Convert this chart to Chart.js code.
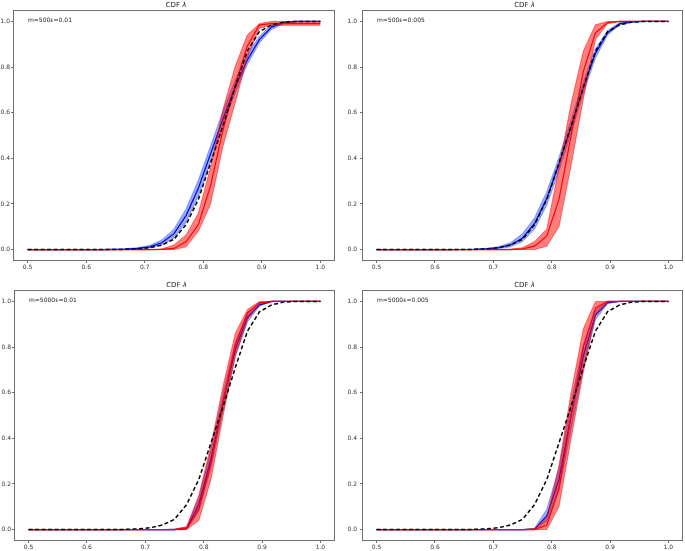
<!DOCTYPE html>
<html>
<head>
<meta charset="utf-8">
<script src="https://cdn.jsdelivr.net/npm/chart.js@4.4.1/dist/chart.umd.min.js"></script>
<style>
  html, body { margin: 0; padding: 0; background: #fff; }
  #fig { position: relative; width: 685px; height: 551px; }
  .panel { position: absolute; }
</style>
</head>
<body>
<div id="fig">
  <div class="panel" style="left:0;top:0"><canvas id="c-tl" width="342" height="275"></canvas></div>
  <div class="panel" style="left:342px;top:0"><canvas id="c-tr" width="343" height="275"></canvas></div>
  <div class="panel" style="left:0;top:275px"><canvas id="c-bl" width="342" height="276"></canvas></div>
  <div class="panel" style="left:342px;top:275px"><canvas id="c-br" width="343" height="276"></canvas></div>
</div>
<script>
// grade lambda (25 pontos entre 0.5 e 1.0)
const lambdas = [0.5, 0.5208, 0.5417, 0.5625, 0.5833, 0.6042, 0.625, 0.6458, 0.6667, 0.6875,
  0.7083, 0.7292, 0.75, 0.7708, 0.7917, 0.8125, 0.8333, 0.8542, 0.875, 0.8958,
  0.9167, 0.9375, 0.9583, 0.9792, 1.0];
const xTicks = [0.5, 0.6, 0.7, 0.8, 0.9, 1.0];
const yTicks = [0.0, 0.2, 0.4, 0.6, 0.8, 1.0];

// CDF verdadeira (tracejada preta), igual nos quatro paineis
const trueCdf = [0,0,0,0,0,0,0,0.0005,0.001,0.003, 0.008,0.02,0.045,0.11,0.22,0.38,0.54,0.71,0.87,0.955, 0.985,0.997,1,1,1];

// m=500, eps=0.01
const tlBlueMean = [0,0,0,0,0,0,0,0.001,0.002,0.005, 0.012,0.03,0.07,0.15,0.27,0.42,0.57,0.71,0.83,0.92, 0.975,0.995,1,1,1];
const tlBlueLow  = [0,0,0,0,0,0,0,0,0.001,0.003, 0.008,0.02,0.05,0.12,0.235,0.385,0.54,0.685,0.81,0.905, 0.965,0.99,0.998,1,1];
const tlBlueHigh = [0,0,0,0,0,0,0,0.002,0.004,0.008, 0.018,0.042,0.09,0.18,0.305,0.455,0.605,0.74,0.855,0.935, 0.985,0.998,1,1,1];
const tlRedMean  = [0,0,0,0,0,0,0,0,0,0, 0,0.001,0.005,0.035,0.11,0.28,0.52,0.72,0.89,0.985, 0.99,0.99,0.99,0.99,0.99];
const tlRedLow   = [0,0,0,0,0,0,0,0,0,0, 0,0,0,0.012,0.08,0.2,0.45,0.64,0.84,0.97, 0.982,0.983,0.983,0.983,0.983];
const tlRedHigh  = [0,0,0,0,0,0,0,0,0,0, 0,0.003,0.02,0.065,0.16,0.36,0.61,0.8,0.94,0.99, 1,1,1,1,1];

// m=500, eps=0.005
const trBlueMean = [0,0,0,0,0,0,0,0.0005,0.001,0.003, 0.008,0.02,0.05,0.115,0.225,0.375,0.54,0.71,0.86,0.95, 0.99,0.998,1,1,1];
const trBlueLow  = [0,0,0,0,0,0,0,0,0,0.001, 0.004,0.012,0.035,0.09,0.195,0.345,0.51,0.685,0.84,0.94, 0.985,0.996,1,1,1];
const trBlueHigh = [0,0,0,0,0,0,0,0.001,0.002,0.005, 0.012,0.03,0.07,0.14,0.255,0.405,0.57,0.735,0.88,0.96, 0.995,1,1,1,1];
const trRedMean  = [0,0,0,0,0,0,0,0,0,0, 0,0,0.003,0.015,0.06,0.22,0.5,0.78,0.95,0.995, 1,1,1,1,1];
const trRedLow   = [0,0,0,0,0,0,0,0,0,0, 0,0,0,0,0.015,0.1,0.37,0.66,0.92,0.99, 1,1,1,1,1];
const trRedHigh  = [0,0,0,0,0,0,0,0,0,0, 0,0.002,0.008,0.035,0.09,0.36,0.64,0.87,0.985,1, 1,1,1,1,1];

// m=5000, eps=0.01
const blBlueMean = [0,0,0,0,0,0,0,0,0,0, 0,0,0,0.005,0.11,0.31,0.56,0.79,0.93,0.985, 1,1,1,1,1];
const blBlueLow  = [0,0,0,0,0,0,0,0,0,0, 0,0,0,0,0.08,0.27,0.52,0.76,0.91,0.98, 0.998,1,1,1,1];
const blBlueHigh = [0,0,0,0,0,0,0,0,0,0, 0,0,0.002,0.012,0.14,0.35,0.6,0.82,0.95,0.99, 1,1,1,1,1];
const blRedMean  = [0,0,0,0,0,0,0,0,0,0, 0,0,0,0.005,0.09,0.29,0.56,0.81,0.95,0.995, 1,1,1,1,1];
const blRedLow   = [0,0,0,0,0,0,0,0,0,0, 0,0,0,0,0.04,0.22,0.5,0.76,0.92,0.99, 1,1,1,1,1];
const blRedHigh  = [0,0,0,0,0,0,0,0,0,0, 0,0,0.002,0.012,0.15,0.37,0.63,0.86,0.965,1, 1,1,1,1,1];

// m=5000, eps=0.005
const brBlueMean = [0,0,0,0,0,0,0,0,0,0, 0,0,0,0.002,0.06,0.22,0.5,0.76,0.94,0.995, 1,1,1,1,1];
const brBlueLow  = [0,0,0,0,0,0,0,0,0,0, 0,0,0,0,0.035,0.17,0.44,0.71,0.92,0.99, 1,1,1,1,1];
const brBlueHigh = [0,0,0,0,0,0,0,0,0,0, 0,0,0,0.006,0.09,0.27,0.56,0.81,0.96,1, 1,1,1,1,1];
const brRedMean  = [0,0,0,0,0,0,0,0,0,0, 0,0,0,0,0.02,0.18,0.5,0.8,0.97,1, 1,1,1,1,1];
const brRedLow   = [0,0,0,0,0,0,0,0,0,0, 0,0,0,0,0,0.1,0.4,0.69,0.94,0.995, 1,1,1,1,1];
const brRedHigh  = [0,0,0,0,0,0,0,0,0,0, 0,0,0,0.005,0.05,0.28,0.6,0.88,1,1, 1,1,1,1,1];

Chart.defaults.font.family = '"DejaVu Sans", sans-serif';
Chart.defaults.color = '#333';

// moldura + titulo "CDF λ" + anotacao de cada painel
const moldura = {
  id: 'moldura',
  afterDraw(chart, args, opts) {
    const { ctx, chartArea: a } = chart;
    ctx.save();
    ctx.strokeStyle = '#6f6f6f';
    ctx.lineWidth = 1;
    ctx.strokeRect(Math.round(a.left) + 0.5, Math.round(a.top) + 0.5,
      Math.round(a.right - a.left) - 1, Math.round(a.bottom - a.top) - 1);

    // titulo com lambda em italico
    ctx.fillStyle = '#222';
    ctx.textBaseline = 'alphabetic';
    ctx.textAlign = 'left';
    const f1 = '7px "DejaVu Sans"', f2 = 'italic 7px "DejaVu Sans"';
    ctx.font = f1;
    const w1 = ctx.measureText('CDF ').width;
    ctx.font = f2;
    const w2 = ctx.measureText('λ').width;
    const x0 = (a.left + a.right) / 2 + 2 - (w1 + w2) / 2;
    const yT = a.top - 3;
    ctx.font = f1;
    ctx.fillText('CDF ', x0, yT);
    ctx.font = f2;
    ctx.fillText('λ', x0 + w1, yT);

    ctx.font = '6px "DejaVu Sans"';
    ctx.textBaseline = 'middle';
    ctx.fillText(opts.nota, a.left + 15, a.top + 10);
    ctx.restore();
  }
};

function pontos(arr) {
  return lambdas.map((x, i) => ({ x: x, y: arr[i] }));
}

function criarPainel(id, nota, cfg) {
  const azulBanda = 'rgba(65,105,225,0.55)';
  const vermBanda = 'rgba(255,0,0,0.5)';
  // o indice 0 fica por cima no Chart.js
  const datasets = [
    { data: pontos(trueCdf), borderColor: '#000', borderWidth: 1.5, borderDash: [4, 2.5], fill: false },
    { data: pontos(cfg.redMean), borderColor: '#ff0000', borderWidth: 1.2, fill: false },
    { data: pontos(cfg.redHigh), borderColor: vermBanda, borderWidth: 1, backgroundColor: vermBanda, fill: 3 },
    { data: pontos(cfg.redLow), borderColor: vermBanda, borderWidth: 1, fill: false },
    { data: pontos(cfg.blueMean), borderColor: '#0000ff', borderWidth: 1.2, fill: false },
    { data: pontos(cfg.blueHigh), borderColor: azulBanda, borderWidth: 1, backgroundColor: azulBanda, fill: 6 },
    { data: pontos(cfg.blueLow), borderColor: azulBanda, borderWidth: 1, fill: false }
  ];
  datasets.forEach(d => { d.pointRadius = 0; d.tension = 0; });

  return new Chart(document.getElementById(id), {
    type: 'line',
    data: { datasets: datasets },
    options: {
      responsive: false,
      animation: false,
      layout: { padding: cfg.padding },
      plugins: {
        legend: { display: false },
        tooltip: { enabled: false },
        moldura: { nota: nota }
      },
      scales: {
        x: {
          type: 'linear', min: 0.475, max: 1.025,
          afterBuildTicks: s => { s.ticks = xTicks.map(v => ({ value: v })); },
          afterFit: s => { s.height = cfg.xHeight; },
          border: { display: false },
          grid: { drawOnChartArea: false, drawTicks: true, tickLength: 2, color: '#6f6f6f' },
          ticks: { font: { size: 6 }, padding: 1, maxRotation: 0, callback: v => String(Math.round(v * 10) / 10 === 1 ? '1.0' : v.toFixed(1)) }
        },
        y: {
          min: -0.05, max: 1.05,
          afterBuildTicks: s => { s.ticks = yTicks.map(v => ({ value: v })); },
          afterFit: s => { s.width = cfg.yWidth; },
          border: { display: false },
          grid: { drawOnChartArea: false, drawTicks: true, tickLength: 2, color: '#6f6f6f' },
          ticks: { font: { size: 6 }, padding: cfg.yPad, callback: v => v.toFixed(1) }
        }
      }
    },
    plugins: [moldura]
  });
}

criarPainel('c-tl', 'm=500ε=0.01', {
  blueMean: tlBlueMean, blueLow: tlBlueLow, blueHigh: tlBlueHigh,
  redMean: tlRedMean, redLow: tlRedLow, redHigh: tlRedHigh,
  padding: { top: 10, right: 7, left: 0, bottom: 0 }, yWidth: 13, xHeight: 14, yPad: 1
});
criarPainel('c-tr', 'm=500ε=0.005', {
  blueMean: trBlueMean, blueLow: trBlueLow, blueHigh: trBlueHigh,
  redMean: trRedMean, redLow: trRedLow, redHigh: trRedHigh,
  padding: { top: 10, right: 2, left: 0, bottom: 0 }, yWidth: 20, xHeight: 14, yPad: 3
});
criarPainel('c-bl', 'm=5000ε=0.01', {
  blueMean: blBlueMean, blueLow: blBlueLow, blueHigh: blBlueHigh,
  redMean: blRedMean, redLow: blRedLow, redHigh: blRedHigh,
  padding: { top: 15, right: 7, left: 0, bottom: 0 }, yWidth: 14, xHeight: 10, yPad: 1
});
criarPainel('c-br', 'm=5000ε=0.005', {
  blueMean: brBlueMean, blueLow: brBlueLow, blueHigh: brBlueHigh,
  redMean: brRedMean, redLow: brRedLow, redHigh: brRedHigh,
  padding: { top: 15, right: 2, left: 0, bottom: 0 }, yWidth: 20, xHeight: 10, yPad: 3
});
</script>
</body>
</html>
